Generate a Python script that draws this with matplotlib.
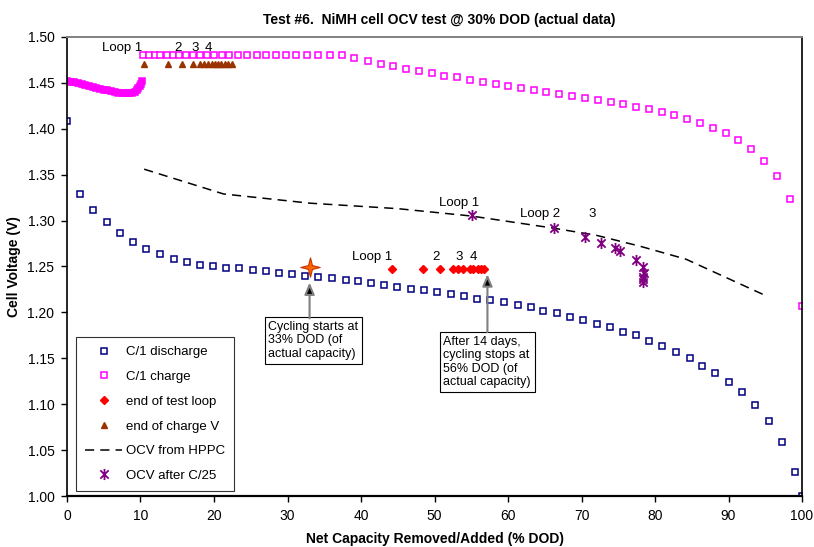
import matplotlib

matplotlib.use("Agg")
import matplotlib.pyplot as plt
from matplotlib.path import Path

plt.rcParams["font.family"] = ["Liberation Sans", "DejaVu Sans"]

# ---- data --------------------------------------------------------------------
# C/1 discharge (blue hollow squares)
dis_x = [0.0, 1.8, 3.6, 5.4, 7.2, 9.0, 10.8, 12.7, 14.5, 16.3, 18.1, 19.8, 21.6,
         23.4, 25.3, 27.1, 28.8, 30.6, 32.4, 34.2, 36.1, 37.9, 39.6, 41.3, 43.1,
         44.9, 46.8, 48.6, 50.4, 52.2, 54.0, 55.8, 57.6, 59.5, 61.3, 63.1, 64.8,
         66.6, 68.4, 70.2, 72.1, 73.9, 75.6, 77.4, 79.2, 81.0, 82.9, 84.7, 86.4,
         88.2, 90.0, 91.8, 93.6, 95.5, 97.3, 99.1, 100.0]
dis_v = [1.408, 1.329, 1.311, 1.298, 1.286, 1.277, 1.269, 1.264, 1.258, 1.255,
         1.252, 1.250, 1.248, 1.248, 1.246, 1.245, 1.243, 1.242, 1.240, 1.239,
         1.237, 1.235, 1.234, 1.232, 1.230, 1.228, 1.226, 1.224, 1.222, 1.220,
         1.218, 1.215, 1.213, 1.211, 1.208, 1.206, 1.202, 1.199, 1.195, 1.192,
         1.187, 1.184, 1.179, 1.175, 1.169, 1.163, 1.157, 1.150, 1.142, 1.134,
         1.124, 1.113, 1.099, 1.082, 1.059, 1.026, 1.000]

# C/1 charge, the densely sampled start (rest + early charge)
chg_dense_x = [0.0, 0.5, 1.0, 1.5, 2.0, 2.5, 3.0, 3.5, 4.0, 4.5, 5.0, 5.5, 6.0,
               6.5, 7.0, 7.5, 8.0, 8.5, 8.9, 9.2, 9.5, 9.7, 9.9, 10.05, 10.2]
chg_dense_v = [1.452, 1.451, 1.4505, 1.4495, 1.4485, 1.4475, 1.4465, 1.4455,
               1.4445, 1.4435, 1.4425, 1.4418, 1.441, 1.4402, 1.4395, 1.439,
               1.4387, 1.4388, 1.4395, 1.4405, 1.442, 1.444, 1.4465, 1.449, 1.452]
# C/1 charge (magenta hollow squares)
chg_x = [10.4, 11.2, 12.0, 12.7, 13.55, 14.45, 15.3, 16.2, 17.1, 18.1, 19.0,
         20.0, 21.05, 22.1, 23.3, 24.5, 25.8, 27.1, 28.4, 29.8, 31.2, 32.6, 34.1,
         35.8, 37.4, 39.1, 40.9, 42.7, 44.4, 46.1, 47.9, 49.6, 51.3, 53.1, 54.8,
         56.6, 58.3, 60.0, 61.8, 63.5, 65.2, 67.0, 68.7, 70.5, 72.2, 74.0, 75.7,
         77.4, 79.2, 80.9, 82.6, 84.4, 86.1, 87.9, 89.6, 91.3, 93.1, 94.8, 96.6,
         98.3, 100.0]
chg_v = [1.480, 1.480, 1.480, 1.480, 1.480, 1.480, 1.480, 1.480, 1.480, 1.480,
         1.480, 1.480, 1.480, 1.480, 1.480, 1.480, 1.480, 1.480, 1.480, 1.480,
         1.480, 1.480, 1.480, 1.480, 1.480, 1.477, 1.474, 1.471, 1.468, 1.4655,
         1.463, 1.4605, 1.458, 1.456, 1.4535, 1.451, 1.449, 1.4466, 1.4448,
         1.4425, 1.4403, 1.4382, 1.4361, 1.4339, 1.4317, 1.4292, 1.4267, 1.4241,
         1.4212, 1.418, 1.4147, 1.4107, 1.4063, 1.4012, 1.3951, 1.3875, 1.378,
         1.3652, 1.3486, 1.3235, 1.2073]

# end of test loop (red diamonds)
loop_x = [44.2, 48.5, 50.7, 52.5, 53.2, 53.9, 54.8, 55.3, 55.9, 56.3, 56.7]
loop_v = [1.247] * len(loop_x)

# end of charge V (brown triangles)
eoc_x = [10.5, 13.8, 15.7, 17.2, 18.1, 18.6, 19.2, 19.7, 20.1, 20.6, 21.0,
         21.5, 21.9, 22.4]
eoc_v = [1.4705] * len(eoc_x)

# OCV from HPPC (dashed line)
hppc_x = [10.5, 21.3, 33.0, 45.0, 55.0, 66.0, 72.0, 78.0, 84.2, 95.4]
hppc_v = [1.356, 1.329, 1.319, 1.313, 1.305, 1.292, 1.284, 1.272, 1.258, 1.217]

# OCV after C/25 (purple asterisks)
c25_x = [55.1, 66.2, 70.5, 72.7, 74.6, 75.3, 77.4, 78.3, 78.5, 78.4, 78.3, 78.3]
c25_v = [1.306, 1.292, 1.282, 1.276, 1.270, 1.267, 1.257, 1.249, 1.243, 1.239,
         1.236, 1.233]

# cycling start point (orange star)
start_x, start_v = 33.0, 1.249

# ---- figure ------------------------------------------------------------------
fig = plt.figure(figsize=(8.14, 5.47), dpi=100)
ax = fig.add_axes([0.0823, 0.0932, 0.9030, 0.8392])

asterisk = Path([(0, -1), (0, 1), (-0.75, -0.75), (0.75, 0.75), (-0.75, 0.75), (0.75, -0.75)],
                [Path.MOVETO, Path.LINETO, Path.MOVETO, Path.LINETO, Path.MOVETO, Path.LINETO])
sparkle = Path([(0, 1), (0.2, 0.2), (1, 0), (0.2, -0.2), (0, -1), (-0.2, -0.2),
                (-1, 0), (-0.2, 0.2), (0, 1)])

ax.plot(dis_x, dis_v, ls="none", marker="s", ms=4.8, mfc="white", mec="#000080",
        mew=1.1, label="C/1 discharge")
ax.plot(chg_dense_x, chg_dense_v, ls="-", lw=5, color="#FF00FF", marker="s", ms=4.8,
        mfc="#FF00FF", mec="#FF00FF", mew=1.1, solid_capstyle="butt")
ax.plot(chg_x, chg_v, ls="none", marker="s", ms=4.8, mfc="white", mec="#FF00FF",
        mew=1.1, label="C/1 charge")
ax.plot(loop_x, loop_v, ls="none", marker="D", ms=4.5, color="#FF0000",
        label="end of test loop")
ax.plot(eoc_x, eoc_v, ls="none", marker="^", ms=5, color="#993300",
        label="end of charge V")
ax.plot(hppc_x, hppc_v, ls=(0, (6, 4)), lw=1.1, color="black", label="OCV from HPPC")
ax.plot(c25_x, c25_v, ls="none", marker=asterisk, ms=8, mew=1.3, color="#800080",
        mfc="none", label="OCV after C/25")
ax.plot([start_x], [start_v], ls="none", marker=sparkle, ms=14, mfc="#FF6600",
        mec="#CC3300", mew=0.8)

# loop labels
ax.text(10.3, 1.4875, "Loop 1", fontsize=9.5, ha="right", va="center")
for x, s in [(15.1, "2"), (17.4, "3"), (19.2, "4")]:
    ax.text(x, 1.4875, s, fontsize=9.5, ha="center", va="center")
ax.text(44.2, 1.260, "Loop 1", fontsize=9.5, ha="right", va="center")
for x, s in [(50.2, "2"), (53.4, "3"), (55.3, "4")]:
    ax.text(x, 1.260, s, fontsize=9.5, ha="center", va="center")
ax.text(53.4, 1.319, "Loop 1", fontsize=9.5, ha="center", va="center")
ax.text(64.4, 1.3075, "Loop 2", fontsize=9.5, ha="center", va="center")
ax.text(71.5, 1.3075, "3", fontsize=9.5, ha="center", va="center")

# call-out boxes and arrows
box = dict(boxstyle="square,pad=0.3", fc="white", ec="black", lw=0.8)
ax.text(27.4, 1.1905, "Cycling starts at\n33% DOD (of\nactual capacity)", fontsize=9,
        ha="left", va="top", bbox=box, linespacing=1.15)
ax.text(51.2, 1.1745, "After 14 days,\ncycling stops at\n56% DOD (of\nactual capacity)",
        fontsize=9, ha="left", va="top", bbox=box, linespacing=1.15)
arrow = dict(arrowstyle="-|>,head_length=0.7,head_width=0.3", lw=1.5,
             edgecolor="#808080", facecolor="black", shrinkA=0, shrinkB=0)
ax.annotate("", xy=(33.0, 1.2325), xytext=(33.0, 1.1935), arrowprops=arrow)
ax.annotate("", xy=(57.2, 1.2415), xytext=(57.2, 1.1785), arrowprops=arrow)

# axes
ax.set_xlim(0, 100)
ax.set_ylim(1.0, 1.5)
ax.set_xticks(range(0, 101, 10))
ax.set_yticks([1.0 + 0.05 * i for i in range(11)])
ax.yaxis.set_major_formatter(matplotlib.ticker.FormatStrFormatter("%.2f"))
ax.tick_params(direction="out", length=4, width=1, labelsize=10, pad=5)
for side in ["left", "bottom", "right"]:
    ax.spines[side].set_color("black")
ax.spines["top"].set_color("#808080")
ax.spines["bottom"].set_linewidth(1.6)
ax.spines["left"].set_linewidth(1.2)
ax.spines["right"].set_linewidth(1.2)
ax.spines["top"].set_linewidth(1.4)
ax.set_xlabel("Net Capacity Removed/Added (% DOD)", fontsize=10, fontweight="bold",
              labelpad=7)
ax.set_ylabel("Cell Voltage (V)", fontsize=10, fontweight="bold", labelpad=5)
fig.suptitle("Test #6.  NiMH cell OCV test @ 30% DOD (actual data)", fontsize=10,
             fontweight="bold", x=0.54, y=0.977)

leg = ax.legend(loc="upper left", bbox_to_anchor=(0.012, 0.347), fontsize=9.5,
                frameon=True, fancybox=False, edgecolor="black", labelspacing=0.95,
                handlelength=2.8, handletextpad=0.3, borderpad=0.7, borderaxespad=0)
leg.get_frame().set_linewidth(0.8)

fig.savefig("out.png", dpi=100)
